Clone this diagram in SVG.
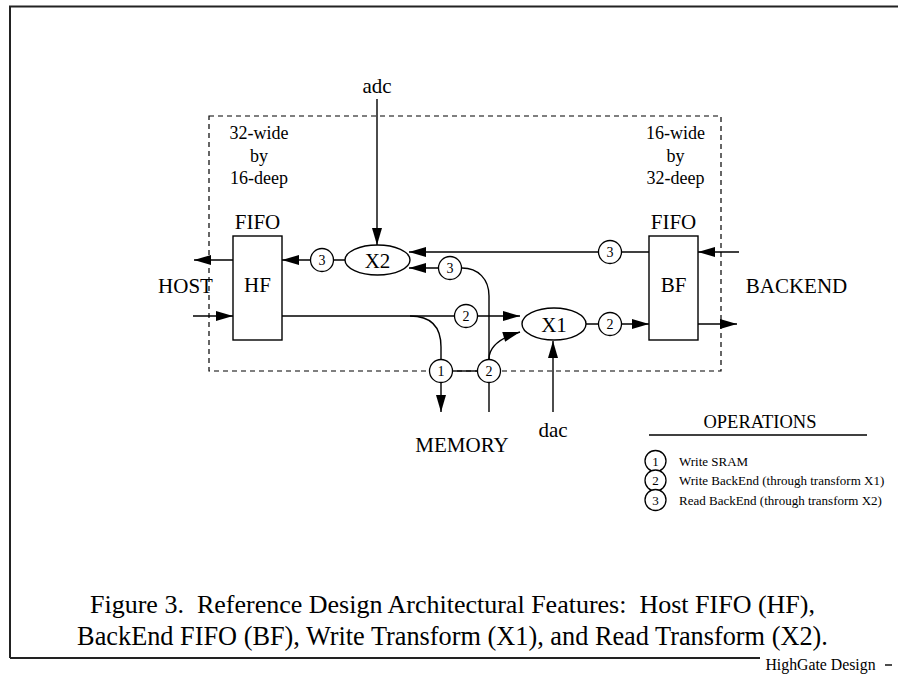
<svg xmlns="http://www.w3.org/2000/svg" width="898" height="680" viewBox="0 0 898 680">
<defs>
<marker id="ah" markerUnits="userSpaceOnUse" markerWidth="18" markerHeight="11" refX="17" refY="5" orient="auto" overflow="visible">
<path d="M0,0 L17,5 L0,10 z" fill="#000"/>
</marker>
<style>
text{font-family:"Liberation Serif","Times New Roman",serif;fill:#000;text-anchor:middle}
.lbl{font-size:21px}
.sz{font-size:18px}
.num{font-size:14px}
.leg{font-size:13px;text-anchor:start}
.line{fill:none;stroke:#000;stroke-width:1.4}
.arr{fill:none;stroke:#000;stroke-width:1.4;marker-end:url(#ah)}
.box{fill:#fff;stroke:#000;stroke-width:1.4}
.circ{fill:#fff;stroke:#000;stroke-width:1.3}
.frame{fill:none;stroke:#222;stroke-width:2}
</style>
</defs>
<rect width="898" height="680" fill="#fff"/>
<g id="frame">
<path class="frame" d="M10 658 V6.5 H898"/>
<path class="frame" d="M10 658 H760"/>
<path class="line" d="M885 665 H892"/>
<text x="820.5" y="670" style="font-size:15.8px">HighGate Design</text>
</g>
<g id="boundary">
<rect x="209" y="116" width="512" height="255" fill="none" stroke="#000" stroke-width="1.2" stroke-dasharray="5 4"/>
<text class="sz" x="259" y="139">32-wide</text>
<text class="sz" x="259" y="161.5">by</text>
<text class="sz" x="259" y="184">16-deep</text>
<text class="sz" x="675.5" y="139">16-wide</text>
<text class="sz" x="675.5" y="161.5">by</text>
<text class="sz" x="675.5" y="184">32-deep</text>
</g>
<g id="connectors">
<path class="arr" d="M377 99 V245"/>
<path class="arr" d="M345 260 H282"/>
<path class="arr" d="M233 260 H194"/>
<path class="arr" d="M193 316 H233"/>
<path class="arr" d="M282 316 H520"/>
<path class="arr" d="M410 316 C431 316 441 327 441 347 V412"/>
<path class="arr" d="M649 252 H409"/>
<path class="arr" d="M489 412 V296 C489 279 478 268 462 268 H409"/>
<path class="arr" d="M489 359 C489 347 500 338 520 332"/>
<path class="line" d="M452 371 H478"/>
<path class="arr" d="M553 412 V341"/>
<path class="arr" d="M586 324 H649"/>
<path class="arr" d="M698 324 H737"/>
<path class="arr" d="M739 252 H698"/>
</g>
<g id="connector-labels">
<circle class="circ" cx="322" cy="260" r="11.5"/><text class="num" x="322" y="265">3</text>
<circle class="circ" cx="450" cy="268" r="11.5"/><text class="num" x="450" y="273">3</text>
<circle class="circ" cx="610" cy="252" r="11.5"/><text class="num" x="610" y="257">3</text>
<circle class="circ" cx="466" cy="316" r="11.5"/><text class="num" x="466" y="321">2</text>
<circle class="circ" cx="610" cy="324" r="11.5"/><text class="num" x="610" y="329">2</text>
<circle class="circ" cx="441" cy="371" r="11.5"/><text class="num" x="441" y="376">1</text>
<circle class="circ" cx="489" cy="371" r="11.5"/><text class="num" x="489" y="376">2</text>
</g>
<g id="HF">
<rect class="box" x="233" y="236" width="49" height="104"/>
<text class="lbl" x="257.5" y="229">FIFO</text>
<text class="lbl" x="257.5" y="292">HF</text>
</g>
<g id="BF">
<rect class="box" x="649" y="236" width="49" height="104"/>
<text class="lbl" x="673.5" y="229">FIFO</text>
<text class="lbl" x="673.5" y="292">BF</text>
</g>
<g id="X2">
<ellipse class="box" cx="377.5" cy="260" rx="32.5" ry="15"/>
<text class="lbl" x="377.5" y="267.5">X2</text>
</g>
<g id="X1">
<ellipse class="box" cx="554" cy="324" rx="32" ry="16"/>
<text class="lbl" x="554" y="331.5">X1</text>
</g>
<g id="HOST"><text class="lbl" x="185.5" y="292.5">HOST</text></g>
<g id="BACKEND"><text class="lbl" x="796.5" y="292.5">BACKEND</text></g>
<g id="adc"><text class="lbl" x="377" y="93">adc</text></g>
<g id="dac"><text class="lbl" x="553" y="437">dac</text></g>
<g id="MEMORY"><text class="lbl" x="462" y="452">MEMORY</text></g>
<g id="legend">
<text x="760" y="428" style="font-size:18.5px">OPERATIONS</text>
<path class="line" d="M649 435 H867"/>
<circle class="circ" cx="655.5" cy="461" r="10.5"/><text x="655.5" y="465.5" style="font-size:13px">1</text>
<circle class="circ" cx="655.5" cy="480.5" r="10.5"/><text x="655.5" y="485" style="font-size:13px">2</text>
<circle class="circ" cx="655.5" cy="500" r="10.5"/><text x="655.5" y="504.5" style="font-size:13px">3</text>
<text class="leg" x="679" y="465.5">Write SRAM</text>
<text class="leg" x="679" y="485">Write BackEnd (through transform X1)</text>
<text class="leg" x="679" y="504.5">Read BackEnd (through transform X2)</text>
</g>
<g id="caption">
<text x="452.5" y="613" style="font-size:26px;white-space:pre">Figure 3.  Reference Design Architectural Features:  Host FIFO (HF),</text>
<text x="452.5" y="645" style="font-size:26.3px">BackEnd FIFO (BF), Write Transform (X1), and Read Transform (X2).</text>
</g>
</svg>
